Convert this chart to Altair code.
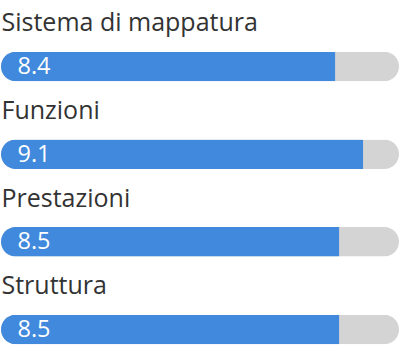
import altair as alt
import pandas as pd

labels = ["Sistema di mappatura", "Funzioni", "Prestazioni", "Struttura"]
scores = [8.4, 9.1, 8.5, 8.5]
max_score = [10, 10, 10, 10]

df = pd.DataFrame({"label": labels, "score": scores, "max": max_score})
df["text"] = df["score"].map(lambda v: f"{v:.1f}")

FONT = "Open Sans"
BLUE = "#4189DC"
GRAY = "#D4D4D4"
R = 14.75
BAR_H = 29.5

y = alt.Y("label:N", sort=labels, axis=None,
          scale=alt.Scale(range=[0, 350.4], paddingInner=0, paddingOuter=0))
xs = alt.Scale(domain=[0, 10], range=[1, 399])

base = alt.Chart(df)

bg = base.mark_bar(color=GRAY, cornerRadius=R, size=BAR_H, yOffset=22.8).encode(
    x=alt.X("max:Q", scale=xs, axis=None), y=y)

fg = base.mark_bar(color=BLUE, cornerRadiusTopLeft=R, cornerRadiusBottomLeft=R,
                   size=BAR_H, yOffset=22.8).encode(
    x=alt.X("score:Q", scale=xs, axis=None), y=y)

title = base.mark_text(align="left", baseline="alphabetic", font=FONT, fontSize=25,
                       color="#333333", yOffset=-12.5).encode(
    x=alt.value(1.5), y=y, text="label:N")

val = base.mark_text(align="left", baseline="alphabetic", font=FONT, fontSize=23.5,
                     color="white", yOffset=30.2).encode(
    x=alt.value(17.5), y=y, text="text:N")

chart = alt.layer(bg, fg, title, val).properties(
    width=400, height=351, padding=0, autosize=alt.AutoSizeParams(type="none")
).configure_view(stroke=None)

chart.save("out.html", embed_options={"renderer": "svg", "actions": False})
